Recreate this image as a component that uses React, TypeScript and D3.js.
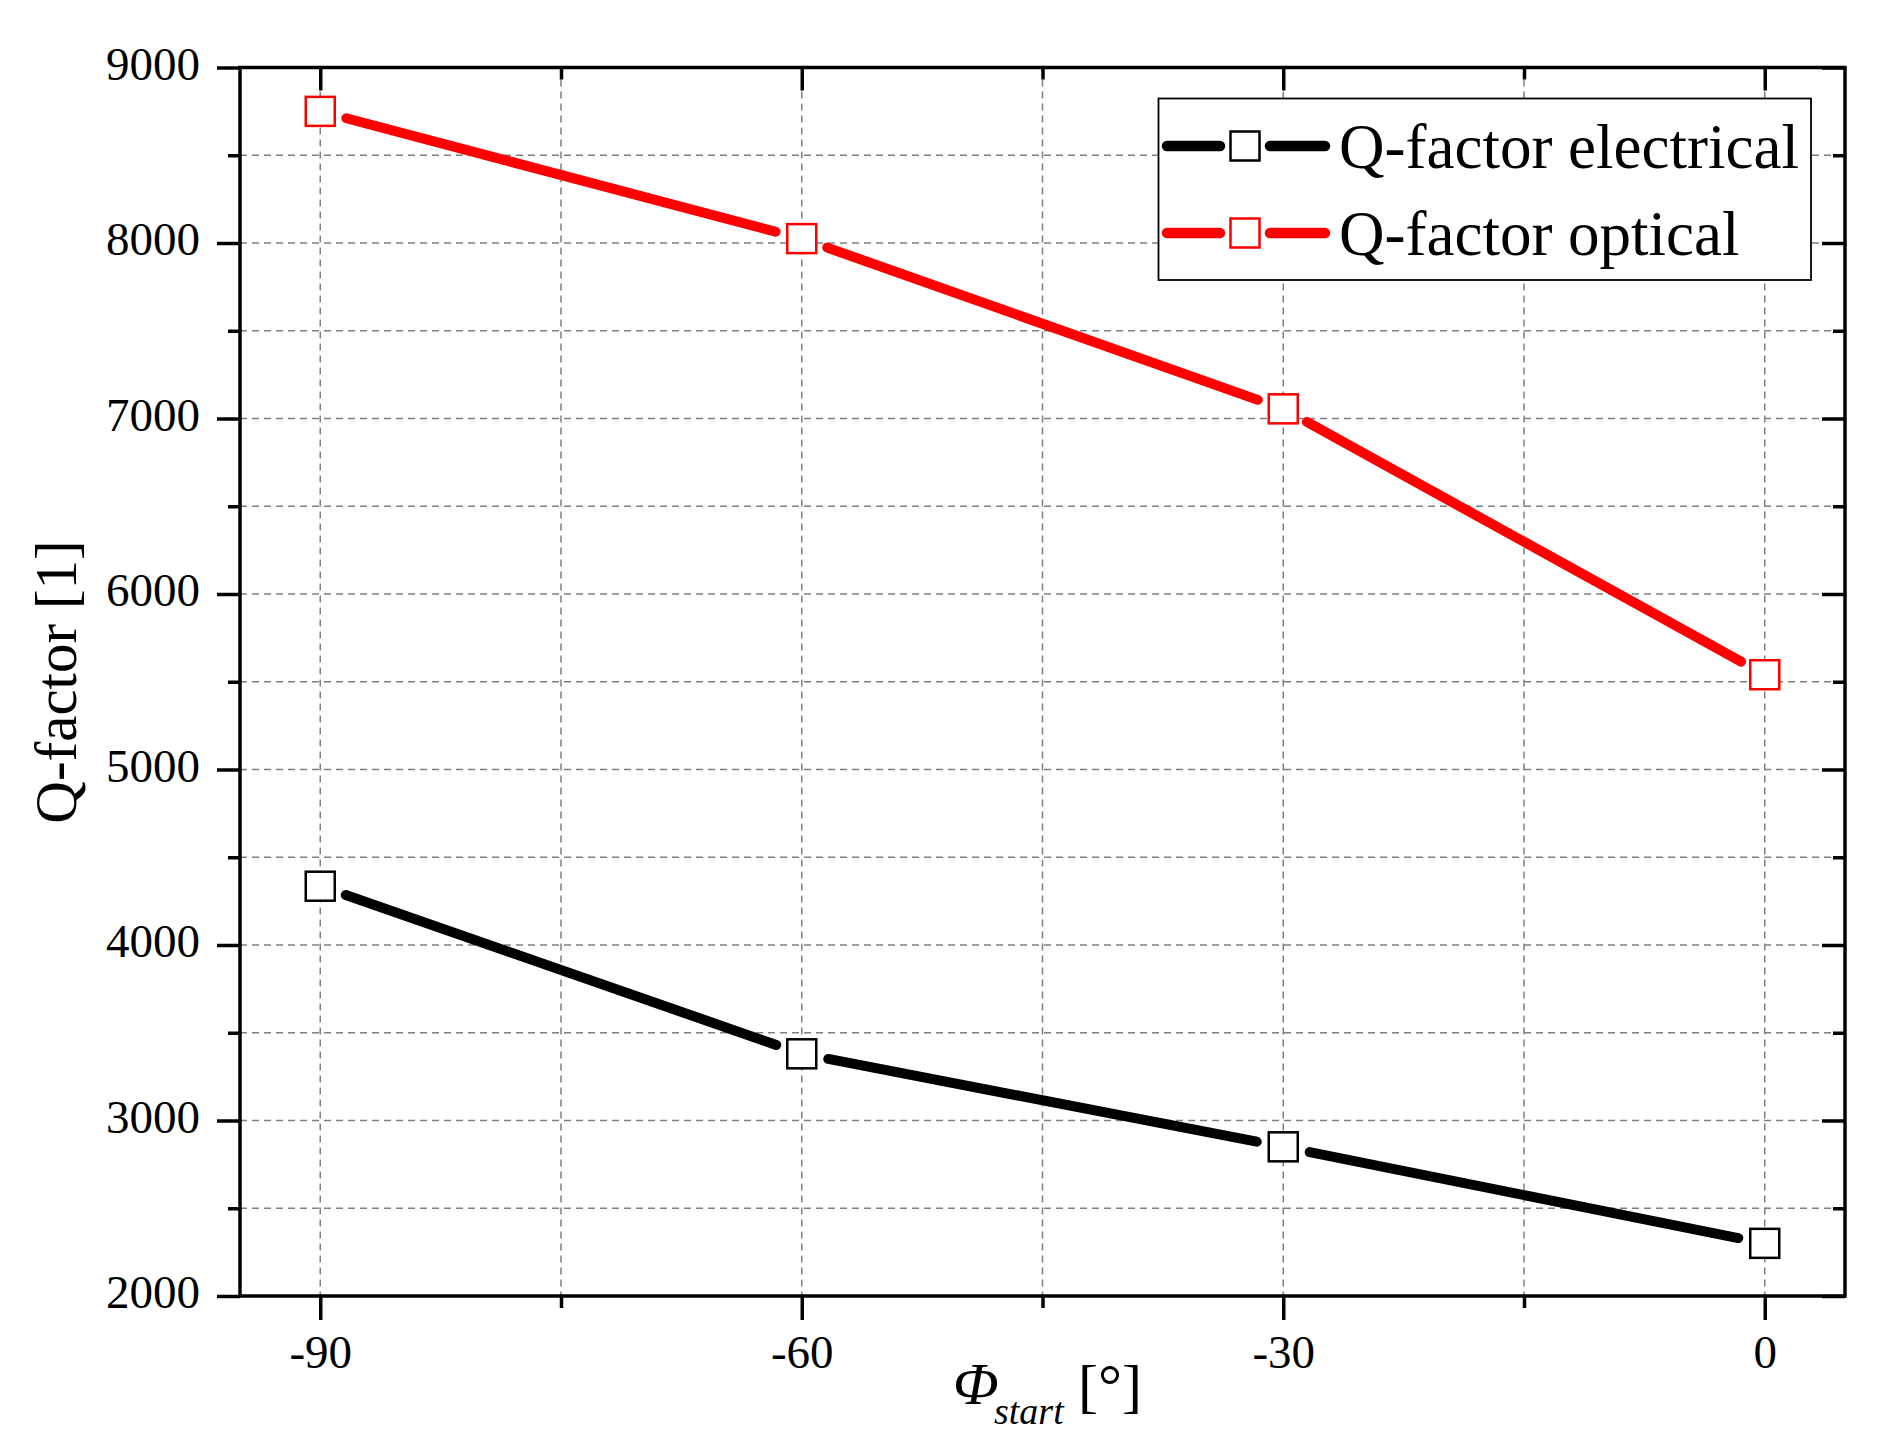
import { useRef, useEffect } from "react";
import * as d3 from "d3";

const phiStart = [-90, -60, -30, 0];
const qElectrical = [4335, 3380, 2850, 2300];
const qOptical = [8750, 8025, 7055, 5540];

const seriesNames = ["Q-factor electrical", "Q-factor optical"];
const seriesColors = ["#000000", "#ff0000"];

const xMajor = [-90, -60, -30, 0];
const xMinor = [-75, -45, -15];
const yMajor = [2000, 3000, 4000, 5000, 6000, 7000, 8000, 9000];
const yMinor = [2500, 3500, 4500, 5500, 6500, 7500, 8500];

const W = 1891;
const H = 1451;
const FONT = "'Liberation Serif', 'Times New Roman', serif";

function QFactorChart() {
  const svgRef = useRef<SVGSVGElement>(null);

  useEffect(() => {
    if (!svgRef.current) return;

    const left = 240;
    const right = 1845;
    const top = 67.5;
    const bottom = 1296;

    const svg = d3.select(svgRef.current);
    svg.selectAll("*").remove();

    svg.attr("width", W).attr("height", H);
    svg.append("rect").attr("width", W).attr("height", H).attr("fill", "#fff");

    const x = d3.scaleLinear().domain([-95, 5]).range([left, right]);
    const y = d3.scaleLinear().domain([2000, 9000]).range([bottom, top]);

    // grid
    const grid = svg.append("g").attr("stroke", "#808080").attr("stroke-width", 1.5).attr("stroke-dasharray", "7,5");
    grid
      .selectAll(".gx")
      .data([...xMajor, ...xMinor])
      .enter()
      .append("line")
      .attr("x1", (d) => x(d))
      .attr("x2", (d) => x(d))
      .attr("y1", top)
      .attr("y2", bottom);
    grid
      .selectAll(".gy")
      .data([...yMajor, ...yMinor].filter((d) => d > 2000 && d < 9000))
      .enter()
      .append("line")
      .attr("x1", left)
      .attr("x2", right)
      .attr("y1", (d) => y(d))
      .attr("y2", (d) => y(d));

    // axes
    const addAxis = (gen: any, tx: number, ty: number) => {
      const g = svg
        .append("g")
        .attr("transform", `translate(${tx},${ty})`)
        .call(gen)
        .call((s: any) => s.select(".domain").remove());
      g.selectAll(".tick line").attr("stroke", "#000").attr("stroke-width", 3.5);
      g.selectAll("text")
        .style("font-family", FONT)
        .style("font-size", "47px")
        .attr("fill", "#000");
      return g;
    };

    addAxis(
      d3.axisLeft(y).tickValues(yMajor).tickSize(23).tickPadding(17).tickFormat(d3.format("d")),
      left,
      0,
    )
      .selectAll("text")
      .attr("dy", 11.5);
    addAxis(d3.axisLeft(y).tickValues(yMinor).tickSize(12).tickFormat(() => ""), left, 0);

    addAxis(
      d3.axisBottom(x).tickValues(xMajor).tickSize(24).tickFormat((d) => String(d)),
      0,
      bottom,
    )
      .selectAll("text")
      .attr("y", 72)
      .attr("dy", 0);
    addAxis(d3.axisBottom(x).tickValues(xMinor).tickSize(12).tickFormat(() => ""), 0, bottom);

    // mirrored axes, ticks inward
    addAxis(d3.axisBottom(x).tickValues(xMajor).tickSize(23).tickFormat(() => ""), 0, top);
    addAxis(d3.axisBottom(x).tickValues(xMinor).tickSize(12).tickFormat(() => ""), 0, top);
    addAxis(d3.axisLeft(y).tickValues(yMajor).tickSize(23).tickFormat(() => ""), right, 0);
    addAxis(d3.axisLeft(y).tickValues(yMinor).tickSize(12).tickFormat(() => ""), right, 0);

    svg
      .append("rect")
      .attr("x", left)
      .attr("y", top)
      .attr("width", right - left)
      .attr("height", bottom - top)
      .attr("fill", "none")
      .attr("stroke", "#000")
      .attr("stroke-width", 3.5);

    // series: line segments with gaps around the symbols
    const gap = 27;
    const markerSize = 29;
    [qElectrical, qOptical].forEach((vals, si) => {
      const color = seriesColors[si];
      const pts = phiStart.map((p, i) => [x(p), y(vals[i])] as [number, number]);
      const g = svg.append("g");
      for (let i = 0; i < pts.length - 1; i++) {
        const [x1, y1] = pts[i];
        const [x2, y2] = pts[i + 1];
        const len = Math.hypot(x2 - x1, y2 - y1);
        const ux = (x2 - x1) / len;
        const uy = (y2 - y1) / len;
        g.append("line")
          .attr("x1", x1 + ux * gap)
          .attr("y1", y1 + uy * gap)
          .attr("x2", x2 - ux * gap)
          .attr("y2", y2 - uy * gap)
          .attr("stroke", color)
          .attr("stroke-width", 10)
          .attr("stroke-linecap", "round");
      }
      g.selectAll(".m")
        .data(pts)
        .enter()
        .append("rect")
        .attr("x", (d) => d[0] - markerSize / 2)
        .attr("y", (d) => d[1] - markerSize / 2)
        .attr("width", markerSize)
        .attr("height", markerSize)
        .attr("fill", "#fff")
        .attr("stroke", color)
        .attr("stroke-width", 2.5);
    });

    // legend
    const legend = svg.append("g");
    legend
      .append("rect")
      .attr("x", 1158.5)
      .attr("y", 98.5)
      .attr("width", 652.5)
      .attr("height", 181.5)
      .attr("fill", "#fff")
      .attr("stroke", "#000")
      .attr("stroke-width", 1.8);
    const rowY = [146, 233];
    const cx = 1245;
    seriesNames.forEach((name, i) => {
      const color = seriesColors[i];
      const ry = rowY[i];
      [
        [cx - 78, cx - 25],
        [cx + 25, cx + 80],
      ].forEach(([a, b]) => {
        legend
          .append("line")
          .attr("x1", a)
          .attr("x2", b)
          .attr("y1", ry)
          .attr("y2", ry)
          .attr("stroke", color)
          .attr("stroke-width", 10.5)
          .attr("stroke-linecap", "round");
      });
      legend
        .append("rect")
        .attr("x", cx - markerSize / 2)
        .attr("y", ry - markerSize / 2)
        .attr("width", markerSize)
        .attr("height", markerSize)
        .attr("fill", "#fff")
        .attr("stroke", color)
        .attr("stroke-width", 2.5);
      legend
        .append("text")
        .attr("x", 1339)
        .attr("y", ry + 22)
        .style("font-family", FONT)
        .style("font-size", "63px")
        .attr("fill", "#000")
        .text(name);
    });

    // axis titles
    svg
      .append("text")
      .attr("transform", "translate(76,682) rotate(-90)")
      .attr("text-anchor", "middle")
      .style("font-family", FONT)
      .style("font-size", "59px")
      .attr("fill", "#000")
      .text("Q-factor [1]");

    const xt = svg
      .append("text")
      .style("font-family", FONT)
      .attr("fill", "#000");
    xt.append("tspan")
      .attr("x", 953)
      .attr("y", 1404)
      .style("font-style", "italic")
      .style("font-size", "60px")
      .text("Φ");
    xt.append("tspan")
      .attr("x", 994)
      .attr("y", 1424)
      .style("font-style", "italic")
      .style("font-size", "38px")
      .text("start");
    xt.append("tspan")
      .attr("x", 1078)
      .attr("y", 1406)
      .style("font-size", "60px")
      .text("[°]");
  }, []);

  return <svg ref={svgRef} style={{ position: "absolute", left: 0, top: 0, display: "block" }} />;
}

export default function App() {
  return <QFactorChart />;
}
